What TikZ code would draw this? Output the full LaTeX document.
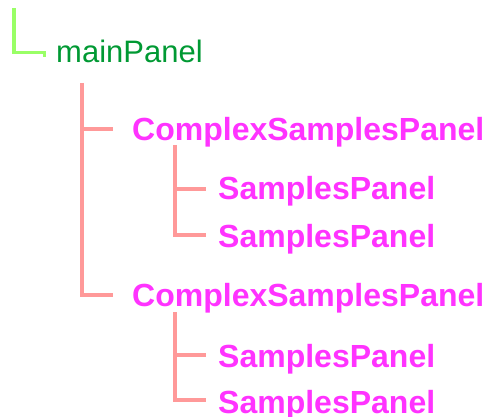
\documentclass[tikz,border=0pt]{standalone}
\usepackage{fontspec}
\setmainfont{Liberation Sans}
\definecolor{lgreen}{HTML}{99FF66}
\definecolor{dgreen}{HTML}{009933}
\definecolor{salmon}{HTML}{FF9999}
\definecolor{magenta2}{HTML}{FF33FF}
\begin{document}
\begin{tikzpicture}[x=1pt,y=-1pt,
  rootlbl/.style={anchor=base west,inner sep=0pt,text=dgreen,font=\fontsize{31}{31}\selectfont},
  kidlbl/.style={anchor=base west,inner sep=0pt,text=magenta2,font=\fontsize{32}{32}\selectfont\bfseries},
  gline/.style={draw=lgreen,line width=3.2pt},
  sline/.style={draw=salmon,line width=3.4pt}]
\useasboundingbox (0,0) rectangle (490,417);
% nodes
\node[rootlbl] (main) at (56,63) {mainPanel};
\node[kidlbl] (c1) at (132,141) {ComplexSamplesPanel};
\node[kidlbl] (s1) at (218,200) {SamplesPanel};
\node[kidlbl] (s2) at (218,247) {SamplesPanel};
\node[kidlbl] (c2) at (132,306) {ComplexSamplesPanel};
\node[kidlbl] (s3) at (218,367) {SamplesPanel};
\node[kidlbl] (s4) at (218,413) {SamplesPanel};
% coordinates
\coordinate (g0) at (14,8);
\coordinate (g1) at (44.5,52.5);
\coordinate (m0) at (82,83);
\coordinate (m1) at (113,129);
\coordinate (m2) at (113,295);
\coordinate (a0) at (175,145);
\coordinate (a1) at (206,189);
\coordinate (a2) at (206,235);
\coordinate (b0) at (175,312);
\coordinate (b1) at (206,355);
\coordinate (b2) at (206,400);
% connectors
\draw[gline] (g0) |- (g1) -- ++(0,4.5);
\draw[sline] (m0) |- (m2);
\draw[sline] (m0 |- m1) -- (m1);
\draw[sline] (a0) |- (a2);
\draw[sline] (a0 |- a1) -- (a1);
\draw[sline] (b0) |- (b2);
\draw[sline] (b0 |- b1) -- (b1);
\end{tikzpicture}
\end{document}
